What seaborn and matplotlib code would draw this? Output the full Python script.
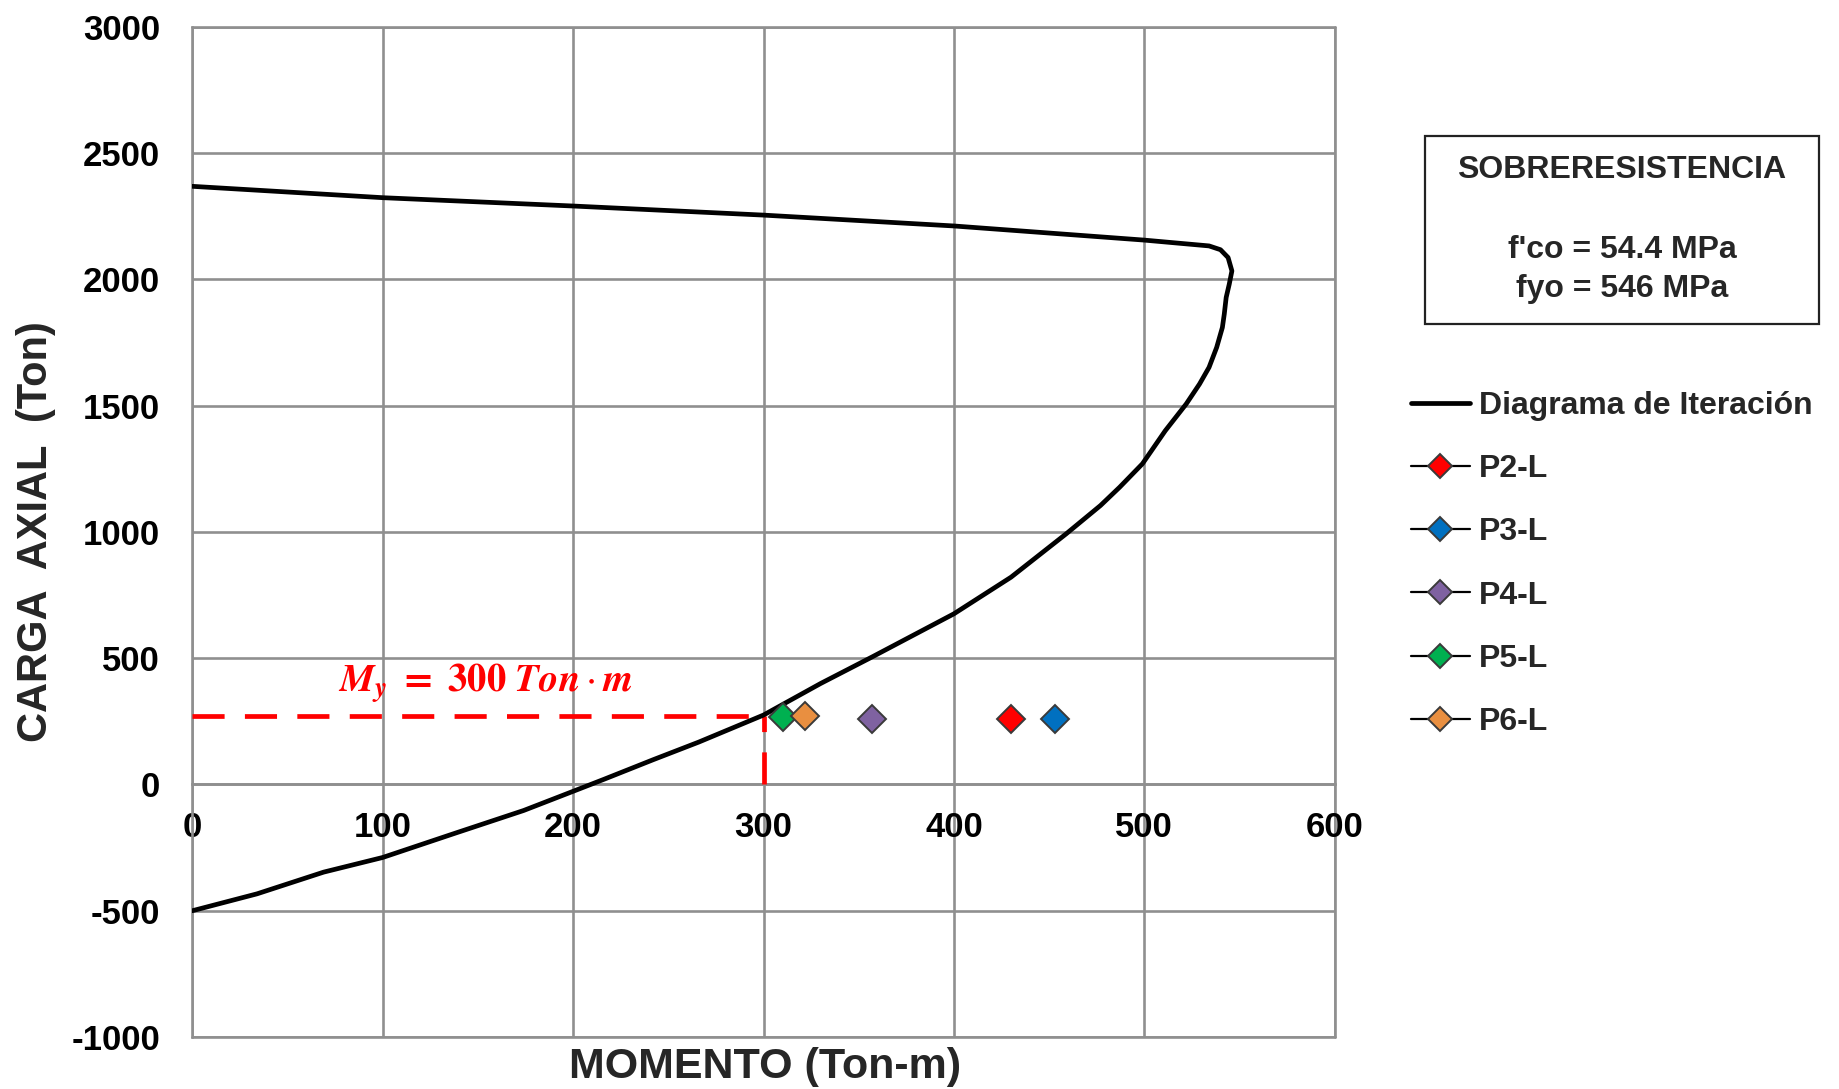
import matplotlib
matplotlib.use("Agg")
import matplotlib.pyplot as plt
from matplotlib.ticker import MultipleLocator
from matplotlib.patches import Rectangle
import seaborn as sns
import pandas as pd

# Interaction diagram (moment, axial load)
momento = [0, 100, 200, 300, 400, 500, 534, 540, 544, 546, 544.6, 543, 542, 541,
           538, 534, 529, 522, 511, 499, 487, 477, 459, 430, 400, 357, 330, 300,
           266, 242, 216, 200, 174, 138, 100, 69, 34, 0]
carga = [2369, 2324, 2291, 2255, 2212, 2156, 2133, 2118, 2087, 2034, 1981, 1929, 1863, 1810,
         1731, 1652, 1586, 1507, 1401, 1270, 1177, 1105, 993, 821, 676, 505, 400, 275,
         168, 98, 20, -27, -103, -193, -289, -347, -433, -500]

# Demand points of each pier
pilas = ["P2-L", "P3-L", "P4-L", "P5-L", "P6-L"]
pilas_m = [430, 453, 357, 310, 322]
pilas_p = [258, 258, 258, 268, 270]
pilas_color = ["#FF0000", "#0070C0", "#7F62A1", "#00B050", "#E98F40"]

# Yield moment reference
my_m = 300
my_p = 270

sns.set_style("white")
plt.rcParams["font.family"] = ["Liberation Sans", "DejaVu Sans"]
plt.rcParams["axes.unicode_minus"] = False
plt.rcParams["mathtext.fontset"] = "stix"

fig = plt.figure(figsize=(18.39, 10.89), dpi=100)
ax = fig.add_axes([0.10457, 0.04775, 0.62121, 0.92746])

grid_c = "#8f8f8f"
grid_w = 1.9

df = pd.DataFrame({"M": momento, "P": carga})
sns.lineplot(data=df, x="M", y="P", sort=False, estimator=None, color="black",
             linewidth=3.4, ax=ax, label="Diagrama de Iteración", zorder=4)

for name, m, p, c in zip(pilas, pilas_m, pilas_p, pilas_color):
    sns.lineplot(x=[m], y=[p], ax=ax, color="black", linewidth=1.6, marker="D",
                 markersize=14.5, markerfacecolor=c, markeredgecolor="#3a3a3a",
                 markeredgewidth=1.4, label=name, zorder=5)

# Yield point guides
ax.plot([0, my_m], [my_p, my_p], color="#FF0000", linewidth=3.4,
        dashes=(6.8, 4.3), zorder=3)
ax.plot([my_m, my_m], [0, my_p], color="#FF0000", linewidth=3.4,
        dashes=(6.8, 4.3), zorder=3)
ax.text(154, 402, r"$\mathbfit{M_y}\ \mathbf{=\ 300}\ \mathbfit{Ton}\cdot\mathbfit{m}$",
        color="#FF0000", fontsize=28, ha="center", va="center", zorder=6)

ax.set_xlim(0, 600)
ax.set_ylim(-1000, 3000)
ax.xaxis.set_major_locator(MultipleLocator(100))
ax.xaxis.set_minor_locator(MultipleLocator(10))
ax.yaxis.set_major_locator(MultipleLocator(500))
ax.yaxis.set_minor_locator(MultipleLocator(100))

ax.grid(True, which="major", color=grid_c, linewidth=grid_w)
ax.set_axisbelow(True)
for side in ["top", "right"]:
    ax.spines[side].set_visible(False)
ax.spines["bottom"].set_position(("data", 0))
for side in ["left", "bottom"]:
    ax.spines[side].set_color(grid_c)
    ax.spines[side].set_linewidth(grid_w)
for v in [600]:
    ax.axvline(v, color=grid_c, linewidth=grid_w, clip_on=False, zorder=0.5)
for h in [-1000, 3000]:
    ax.axhline(h, color=grid_c, linewidth=grid_w, clip_on=False, zorder=0.5)

ax.tick_params(axis="x", which="major", length=0, pad=19, labelsize=25, colors="black")
ax.tick_params(axis="x", which="minor", direction="inout", length=11.5,
               width=grid_w, color=grid_c)
ax.tick_params(axis="y", which="major", direction="out", length=7.2, width=grid_w,
               color=grid_c, pad=16, labelsize=25, labelcolor="black")
ax.tick_params(axis="y", which="minor", direction="inout", length=13,
               width=grid_w, color=grid_c)
for lab in ax.get_xticklabels() + ax.get_yticklabels():
    lab.set_fontweight("bold")

ax.set_xlabel("")
ax.set_ylabel("")
fig.text(765 / 1839, 1 - 1067 / 1089, "MOMENTO (Ton-m)", fontsize=31,
         fontweight="bold", ha="center", va="center")
fig.text(36 / 1839, 1 - 532 / 1089, "CARGA  AXIAL  (Ton)", fontsize=30,
         fontweight="bold", ha="center", va="center", rotation=90)

# Material properties box
fig.add_artist(Rectangle((1425 / 1839, 1 - 324 / 1089), 394 / 1839, 188 / 1089,
                         transform=fig.transFigure, fill=False,
                         edgecolor="#222222", linewidth=1.6))
fig.text(1622 / 1839, 1 - 170 / 1089, "SOBRERESISTENCIA", fontsize=23,
         fontweight="bold", ha="center", va="center")
fig.text(1622 / 1839, 1 - 250 / 1089, "f'co = 54.4 MPa", fontsize=23,
         fontweight="bold", ha="center", va="center")
fig.text(1622 / 1839, 1 - 289 / 1089, "fyo = 546 MPa", fontsize=23,
         fontweight="bold", ha="center", va="center")

leg = ax.legend(loc="upper left", bbox_to_anchor=(1411 / 1839, 1 - 391 / 1089),
                bbox_transform=fig.transFigure, frameon=False, borderpad=0,
                borderaxespad=0, handlelength=1.84, handletextpad=0.28,
                labelspacing=1.04, markerscale=0.85,
                prop={"weight": "bold", "size": 23})

fig.savefig("out.png", dpi=100, facecolor="white")
